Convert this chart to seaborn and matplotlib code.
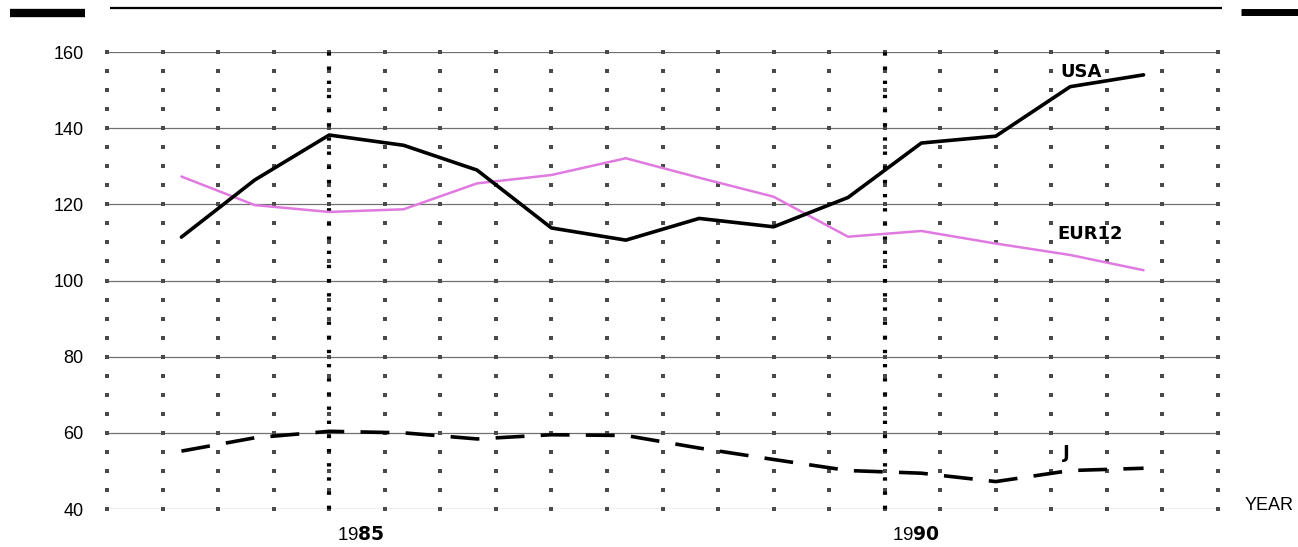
import numpy as np
import pandas as pd
import matplotlib
matplotlib.use("Agg")
import matplotlib.pyplot as plt
import seaborn as sns
from matplotlib.lines import Line2D

# ---- data ----
periods = [1983.67, 1984.33, 1985.0, 1985.67, 1986.33, 1987.0, 1987.67,
           1988.33, 1989.0, 1989.67, 1990.33, 1991.0, 1991.67, 1992.33]
usa = [111.4, 126.4, 138.2, 135.5, 129.0, 113.8, 110.6,
       116.3, 114.1, 121.8, 136.1, 137.9, 150.9, 154.0]
eur12 = [127.3, 119.8, 118.0, 118.7, 125.5, 127.7, 132.1,
         127.0, 122.0, 111.5, 113.0, 109.7, 106.7, 102.7]
japan = [55.2, 58.7, 60.4, 60.0, 58.4, 59.5, 59.3,
         56.0, 53.0, 50.1, 49.4, 47.2, 50.1, 50.7]
y_ticks = [40, 60, 80, 100, 120, 140, 160]
marked_years = [1985, 1990]
marked_labels = ["19$\\mathbf{85}$", "19$\\mathbf{90}$"]
series_labels = ["USA", "EUR12", "J"]

sns.set_theme(style="white")
plt.rcParams['font.family'] = ['Liberation Sans', 'DejaVu Sans']
plt.rcParams['mathtext.fontset'] = 'custom'
plt.rcParams['mathtext.rm'] = 'DejaVu Sans'
plt.rcParams['mathtext.bf'] = 'DejaVu Sans:bold'
plt.rcParams['text.color'] = 'black'
plt.rcParams['ytick.color'] = 'black'
plt.rcParams['ytick.labelcolor'] = 'black'

W, H = 1298, 547
fig = plt.figure(figsize=(W / 100, H / 100), dpi=100)
fig.patch.set_facecolor("white")
ax = fig.add_axes([107 / W, 1 - 509 / H, (1218 - 107) / W, (509 - 52) / H])
ax.set_facecolor("white")
ax.set_xlim(1983, 1993)
ax.set_ylim(40, 160)

# horizontal grid lines
for v in y_ticks:
    ax.axhline(v, color="#707070", lw=0.9, zorder=1)

# dot grid every half year / 5 units
gx, gy = np.meshgrid(np.arange(1983, 1993.01, 0.5), np.arange(40, 160.01, 5))
ax.scatter(gx.ravel(), gy.ravel(), s=5.5, marker="s", color="#4a4a4a",
           linewidths=0, zorder=2, clip_on=False)

# dense dotted lines at marked years
for yr in marked_years:
    ax.axvline(yr, color="black", lw=3.0, linestyle=(0, (0.8, 2.6)),
               dash_capstyle="butt", zorder=2)

df = pd.DataFrame({"period": periods, "USA": usa, "EUR12": eur12, "J": japan})
sns.lineplot(data=df, x="period", y="EUR12", ax=ax, color="#e07ae0", lw=1.8, zorder=3)
sns.lineplot(data=df, x="period", y="USA", ax=ax, color="black", lw=2.6, zorder=4)
sns.lineplot(data=df, x="period", y="J", ax=ax, color="black", lw=2.6,
             dashes=False, zorder=4)
ax.lines[-1].set_linestyle((0, (8, 4.5)))
ax.lines[-1].set_dash_capstyle("butt")

# series labels
lab_kw = dict(fontsize=13, fontweight="bold", va="center", ha="left",
              family="DejaVu Sans")
ax.text(1991.585, 154.7, series_labels[0], **lab_kw)
ax.text(1991.55, 112.1, series_labels[1], **lab_kw)
ax.text(1991.6, 54.7, series_labels[2], **lab_kw)

# axes styling
ax.set_yticks(y_ticks)
ax.set_yticklabels([str(v) for v in y_ticks], fontsize=13)
ax.tick_params(axis="y", length=0, pad=17)
ax.set_xticks([])
ax.set_xlabel("")
ax.set_ylabel("")
for s in ax.spines.values():
    s.set_visible(False)

for yr, lab in zip(marked_years, marked_labels):
    ax.text(yr + 0.07, 33.3, lab, fontsize=13.5, va="center", ha="left")
ax.text(1993.24, 40.8, "YEAR", fontsize=13, va="center", ha="left")

# decorative top rules
fig.add_artist(Line2D([110 / W, 1222 / W], [1 - 8 / H] * 2, color="black",
                      lw=1.6, solid_capstyle="butt"))
fig.add_artist(Line2D([10 / W, 85 / W], [1 - 12.5 / H] * 2, color="black",
                      lw=6, solid_capstyle="butt"))
fig.add_artist(Line2D([1241 / W, 1298 / W], [1 - 11.5 / H] * 2, color="black",
                      lw=5, solid_capstyle="butt"))

fig.savefig("out.png", dpi=100, facecolor="white")
